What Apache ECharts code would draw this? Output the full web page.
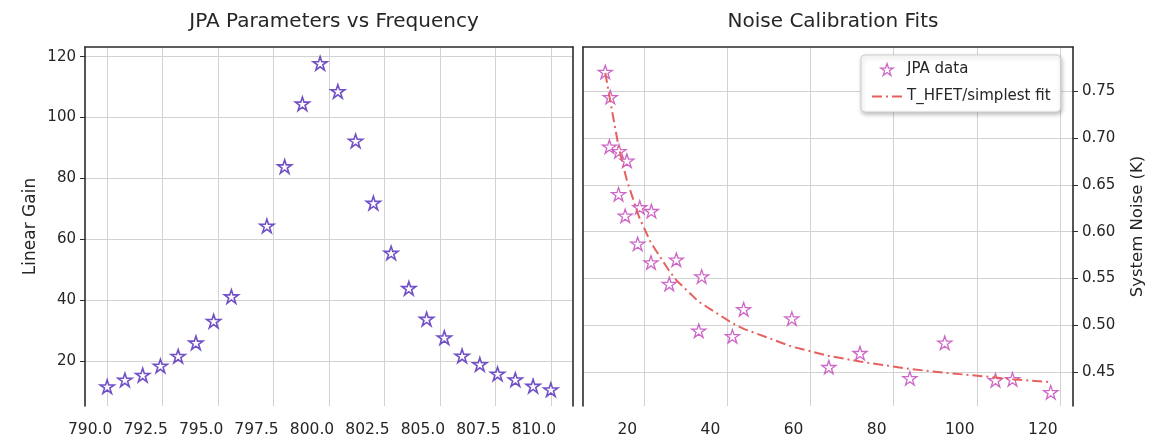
<!DOCTYPE html>
<html>
<head>
<meta charset="utf-8">
<title>JPA</title>
<script src="https://cdn.jsdelivr.net/npm/echarts@6/dist/echarts.min.js"></script>
<style>
  html, body { margin: 0; padding: 0; background: #fff; }
  #main { width: 1158px; height: 438px; }
</style>
</head>
<body>
<div id="main"></div>
<script>
// left panel: gain vs frequency
var freq = [790.0, 790.8, 791.6, 792.4, 793.2, 794.0, 794.8, 795.6, 797.2, 798.0, 798.8, 799.6, 800.4,
  801.2, 802.0, 802.8, 803.6, 804.4, 805.2, 806.0, 806.8, 807.6, 808.4, 809.2, 810.0];
var gain = [11.6, 13.8, 15.4, 18.4, 21.6, 26.0, 33.1, 41.2, 64.4, 83.9, 104.5, 117.8, 108.6,
  92.3, 71.9, 55.5, 43.9, 33.8, 27.7, 21.7, 18.9, 15.8, 13.9, 11.8, 10.6];

// right panel: system noise vs gain
var noiseGain = [10.6, 11.8, 11.6, 13.9, 15.8, 13.8, 15.4, 18.9, 21.7, 18.4, 21.6, 27.7, 26.0,
  33.8, 33.1, 43.9, 41.2, 55.5, 64.4, 71.9, 83.9, 92.3, 104.5, 108.6, 117.8];
var noiseTemp = [0.771, 0.744, 0.691, 0.686, 0.676, 0.640, 0.617, 0.626, 0.622, 0.587, 0.567, 0.570, 0.544,
  0.552, 0.494, 0.517, 0.488, 0.507, 0.455, 0.470, 0.443, 0.481, 0.441, 0.442, 0.428];

// fit curve
var fitGain = [10.6, 11.6, 11.8, 13.8, 13.9, 15.4, 15.8, 18.4, 18.9, 21.6, 21.7, 26.0, 27.7,
  33.1, 33.8, 41.2, 43.9, 55.5, 64.4, 71.9, 83.9, 92.3, 104.5, 108.6, 117.8];
var fitTemp = [0.770, 0.745, 0.740, 0.691, 0.689, 0.662, 0.655, 0.620, 0.614, 0.588, 0.587, 0.558, 0.548,
  0.525, 0.523, 0.502, 0.496, 0.477, 0.467, 0.461, 0.453, 0.449, 0.444, 0.442, 0.439];

// tick labels
var freqTicks = [790, 792.5, 795, 797.5, 800, 802.5, 805, 807.5, 810];
var gainTicks = [20, 40, 60, 80, 100, 120];
var noiseXTicks = [20, 40, 60, 80, 100, 120];
var noiseYTicks = [0.45, 0.50, 0.55, 0.60, 0.65, 0.70, 0.75];

var star = 'path://M50,2 L61,36 L97,36 L68,57 L79,92 L50,70 L21,92 L32,57 L3,36 L39,36 Z';
var spine = { show: true, lineStyle: { color: '#2b2b2b', width: 1.6 } };
var font = 'DejaVu Sans';
var grid_line = { show: true, lineStyle: { color: '#d2d2d2', width: 1 } };
var purple = '#4f24b6', magenta = '#c040b8', red = '#e6615d';

function pairs(xs, ys) {
  var out = [];
  for (var i = 0; i < xs.length; i++) {
    out.push([xs[i], ys[i]]);
  }
  return out;
}

function frame(gridIndex, pos) {
  return {
    type: 'value', gridIndex: gridIndex, position: pos,
    axisLine: spine, axisTick: { show: false }, axisLabel: { show: false }, splitLine: { show: false }
  };
}

var myChart = echarts.init(document.getElementById('main'), null, { renderer: 'canvas' });
var option = {
  animation: false,
  backgroundColor: '#fff',
  textStyle: { fontFamily: font },
  title: [
    { text: 'JPA Parameters vs Frequency', left: 329, top: 7, textAlign: 'center',
      textStyle: { fontFamily: font, fontSize: 20, fontWeight: 'normal', color: '#262626' } },
    { text: 'Noise Calibration Fits', left: 828, top: 7, textAlign: 'center',
      textStyle: { fontFamily: font, fontSize: 20, fontWeight: 'normal', color: '#262626' } }
  ],
  legend: {
    data: [
      { name: 'JPA data', icon: star,
        itemStyle: { color: '#fff', borderColor: magenta, borderWidth: 1.3 } },
      { name: 'T_HFET/simplest fit',
        itemStyle: { color: 'transparent', borderWidth: 0 },
        lineStyle: { color: red, width: 2, type: [10, 4, 2, 4] } }
    ],
    orient: 'vertical', left: 861, top: 55,
    padding: [7, 10, 8, 10], itemGap: 12, itemWidth: 30, itemHeight: 12,
    backgroundColor: '#fff', borderColor: '#cccccc', borderWidth: 1, borderRadius: 4,
    shadowBlur: 4, shadowColor: 'rgba(0,0,0,0.25)', shadowOffsetX: 1, shadowOffsetY: 2,
    textStyle: { fontFamily: font, fontSize: 15, color: '#262626' }
  },
  grid: [
    { left: 85, top: 47, width: 488, height: 360 },
    { left: 583, top: 47, width: 490, height: 360 }
  ],
  xAxis: [
    {
      type: 'value', gridIndex: 0, min: 789, max: 811,
      axisLine: { show: false },
      axisTick: { show: false, customValues: freqTicks },
      splitLine: grid_line,
      axisLabel: {
        customValues: freqTicks, margin: 16, padding: [0, 34, 0, 0],
        fontFamily: font, fontSize: 15.5, color: '#262626',
        formatter: function (v) { return v.toFixed(1); }
      }
    },
    frame(0, 'top'),
    {
      type: 'value', gridIndex: 1, min: 5.24, max: 123.16,
      axisLine: { show: false },
      axisTick: { show: false, customValues: noiseXTicks },
      splitLine: grid_line,
      axisLabel: {
        customValues: noiseXTicks, margin: 16, padding: [0, 34, 0, 0],
        fontFamily: font, fontSize: 15.5, color: '#262626'
      }
    },
    frame(1, 'top')
  ],
  yAxis: [
    {
      type: 'value', gridIndex: 0, min: 5.24, max: 123.16, position: 'left',
      name: 'Linear Gain', nameLocation: 'middle', nameGap: 46, nameRotate: 90,
      nameTextStyle: { fontFamily: font, fontSize: 17, color: '#262626' },
      axisLine: spine,
      axisTick: { show: true, length: 5, customValues: gainTicks, lineStyle: { color: '#2b2b2b' } },
      splitLine: grid_line,
      axisLabel: { customValues: gainTicks, margin: 9, fontFamily: font, fontSize: 15, color: '#262626' }
    },
    frame(0, 'right'),
    frame(1, 'left'),
    {
      type: 'value', gridIndex: 1, min: 0.4134, max: 0.7977, position: 'right',
      name: 'System Noise (K)', nameLocation: 'middle', nameGap: 56, nameRotate: 90,
      nameTextStyle: { fontFamily: font, fontSize: 16.5, color: '#262626' },
      axisLine: spine,
      axisTick: { show: true, length: 5, customValues: noiseYTicks, lineStyle: { color: '#2b2b2b' } },
      splitLine: grid_line,
      axisLabel: {
        customValues: noiseYTicks, margin: 9, fontFamily: font, fontSize: 15, color: '#262626',
        formatter: function (v) { return v.toFixed(2); }
      }
    }
  ],
  series: [
    {
      name: 'Linear Gain', type: 'scatter', xAxisIndex: 0, yAxisIndex: 0,
      symbol: star, symbolSize: 14, symbolKeepAspect: true,
      itemStyle: { color: '#fff', borderColor: purple, borderWidth: 1.6 },
      data: pairs(freq, gain)
    },
    {
      name: 'JPA data', type: 'scatter', xAxisIndex: 2, yAxisIndex: 3,
      symbol: star, symbolSize: 14, symbolKeepAspect: true,
      itemStyle: { color: '#fff', borderColor: magenta, borderWidth: 1.3 },
      data: pairs(noiseGain, noiseTemp)
    },
    {
      name: 'T_HFET/simplest fit', type: 'line', xAxisIndex: 2, yAxisIndex: 3,
      symbol: 'none', z: 3, color: red,
      lineStyle: { color: red, width: 2, type: [10, 4, 2, 4] },
      data: pairs(fitGain, fitTemp)
    }
  ]
};
myChart.setOption(option);
</script>
</body>
</html>
